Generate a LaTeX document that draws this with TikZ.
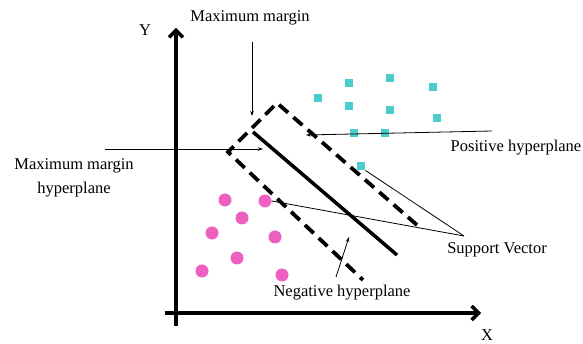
\documentclass[tikz,border=0pt]{standalone}
\usepackage{fontspec}
\setmainfont{Liberation Serif}
\usetikzlibrary{arrows.meta}
\definecolor{possq}{RGB}{72,204,204}
\definecolor{negdot}{RGB}{238,96,192}
\begin{document}
\begin{tikzpicture}[x=1pt,y=-1pt,
  lbl/.style={font=\fontsize{16.5}{24}\selectfont, inner sep=0pt, align=center},
  axis/.style={line width=3.8pt, -{Straight Barb[length=7pt,width=14pt,line width=3.5pt]}},
  margin/.style={line width=3.8pt, dash pattern=on 12pt off 7pt},
  plane/.style={line width=3.5pt},
  pointer/.style={line width=0.8pt, -{Stealth[length=5pt,width=3.5pt]}},
  plainline/.style={line width=0.8pt},
  possqr/.style={fill=possq, draw=none, minimum size=8.5pt, inner sep=0pt},
  negcirc/.style={circle, fill=negdot, draw=none, minimum size=13pt, inner sep=0pt}]
\useasboundingbox (0,0) rectangle (583,344);
% axes
\coordinate (ybot) at (176,326);
\coordinate (ytop) at (176,28);
\coordinate (xleft) at (165,313);
\coordinate (xright) at (481,313);
\draw[axis] (ybot) -- (ytop);
\draw[axis] (xleft) -- (xright);
\node[lbl] (ylab) at (145,30) {Y};
\node[lbl] (xlab) at (487,335) {X};
% points
\foreach \n/\x/\y in {p1/318/98,p2/349/83,p3/390/78,p4/433/87,p5/349/106,p6/390/110,p7/437/118,p8/354/133,p9/385/133,p10/361/166}
  \node[possqr] (\n) at (\x,\y) {};
\foreach \n/\x/\y in {n1/225/200,n2/265/201,n3/242/218,n4/212/233,n5/275/237,n6/237/258,n7/202/271,n8/282/275}
  \node[negcirc] (\n) at (\x,\y) {};
% margins
\coordinate (mtr) at (417,225);
\coordinate (mt) at (277,103);
\coordinate (ml) at (228,152);
\coordinate (mbr) at (363,280);
\draw[margin] (mtr) -- (mt) -- (ml) -- (mbr);
\coordinate (h1) at (253,132);
\coordinate (h2) at (397,255);
\draw[plane] (h1) -- (h2);
% labels
\node[lbl] (mm) at (250,18) {Maximum margin};
\node[lbl] (mmh) at (74,178) {Maximum margin\\hyperplane};
\node[lbl] (pos) at (516,148) {Positive hyperplane};
\node[lbl] (sv) at (497,250) {Support Vector};
\node[lbl] (neg) at (342,293) {Negative hyperplane};
% pointers
\coordinate (mmtop) at (252,42);
\coordinate (mmtip) at (252,116);
\draw[pointer] (mmtop) -- (mmtip);
\coordinate (mmhs) at (105,149);
\coordinate (mmhe) at (263,149);
\draw[pointer] (mmhs) -- (mmhe);
\coordinate (poss) at (492,131);
\coordinate (pose) at (306,135);
\draw[pointer] (poss) -- (pose);
\coordinate (negs) at (336,277);
\coordinate (nege) at (349,237);
\draw[pointer] (negs) -- (nege);
\coordinate (svs) at (464,236);
\draw[plainline] (svs) -- (p10.south east);
\draw[plainline] (svs) -- (n2.east);
\end{tikzpicture}
\end{document}
